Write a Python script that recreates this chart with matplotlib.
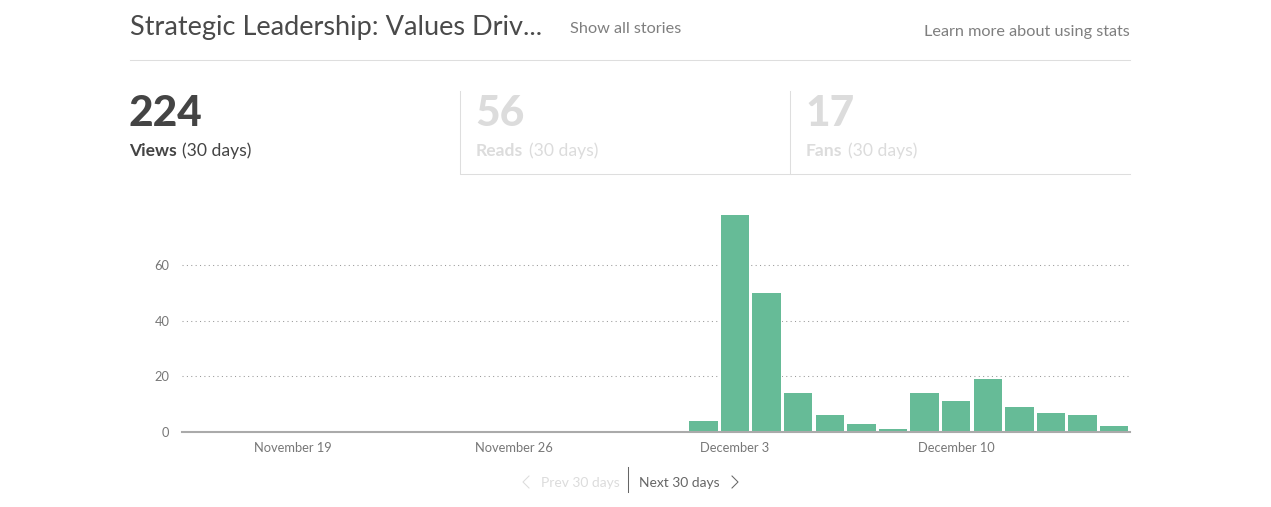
import matplotlib
matplotlib.use("Agg")
import matplotlib.pyplot as plt
import numpy as np

W, H = 1271, 507

views = [0, 0, 0, 0, 0, 0, 0, 0, 0, 0, 0, 0, 0, 0, 0, 0,
         4, 78, 50, 14, 6, 3, 1, 14, 11, 19, 9, 7, 6, 2]
tick_days = [3, 10, 17, 24]
tick_labels = ["November 19", "November 26", "December 3", "December 10"]
y_ticks = [0, 20, 40, 60]

plt.rcParams['font.family'] = ['Lato', 'DejaVu Sans']

fig = plt.figure(figsize=(W / 100, H / 100), dpi=100, facecolor='white')

# page furniture, in pixel coords
ui = fig.add_axes([0, 0, 1, 1])
ui.set_xlim(0, W)
ui.set_ylim(H, 0)
ui.axis('off')

dark = '#444444'
mid = '#7f7f7f'
faint = '#dcdcdc'
line = '#dedede'

ui.text(130, 28, "Strategic Leadership: Values Driv...", fontsize=19.5, color='#4a4a4a', va='center')
ui.text(570, 29, "Show all stories", fontsize=11.7, color=mid, va='center')
ui.text(1130, 32, "Learn more about using stats", fontsize=11.7, color=mid, va='center', ha='right')
ui.plot([130, 1129.5], [60, 60], color=line, lw=0.75)

ui.text(129, 114, "224", fontsize=30.5, fontweight='black', color=dark, va='center')
ui.text(129.5, 151, "Views", fontsize=12.6, fontweight='bold', color=dark, va='center')
ui.text(182.5, 151, "(30 days)", fontsize=12.6, color=dark, va='center')

ui.text(475, 114, "56", fontsize=30.5, fontweight='black', color=faint, va='center')
ui.text(476, 151, "Reads", fontsize=12.6, fontweight='bold', color=faint, va='center')
ui.text(529, 151, "(30 days)", fontsize=12.6, color=faint, va='center')

ui.text(805, 114, "17", fontsize=30.5, fontweight='black', color=faint, va='center')
ui.text(806, 151, "Fans", fontsize=12.6, fontweight='bold', color=faint, va='center')
ui.text(848, 151, "(30 days)", fontsize=12.6, color=faint, va='center')

ui.plot([460, 460, 1129.5], [91, 174, 174], color=line, lw=0.75)
ui.plot([790, 790], [91, 174], color=line, lw=0.75)

ui.text(541, 483, "Prev 30 days", fontsize=10, color=faint, va='center')
ui.text(639, 483, "Next 30 days", fontsize=10, color='#666666', va='center')
ui.plot([628, 628], [467, 492], color='#666666', lw=0.75)
ui.plot([529, 523, 529], [476, 482, 488], color=faint, lw=0.75)
ui.plot([732, 738, 732], [476, 482, 488], color='#666666', lw=0.75)

# the chart
ax = fig.add_axes([182 / W, (H - 432) / H, 948 / W, 217 / H])
ax.patch.set_alpha(0)
x = np.arange(len(views))
ax.bar(x, views, width=0.9, color='#66BB97', linewidth=0, zorder=3)
# white halo so the dotted lines stop just short of the bars
ax.bar(x, views, width=1.0, color='white', linewidth=0, zorder=2)
ax.set_xlim(-0.5, len(views) - 0.5)
ax.set_ylim(0, 78)
ax.set_yticks(y_ticks)
ax.set_xticks(tick_days)
ax.set_xticklabels(tick_labels)
ax.tick_params(length=0, labelsize=9.3, labelcolor='#777777')
ax.tick_params(axis='x', pad=7.5)
ax.tick_params(axis='y', pad=9)
ax.hlines(y_ticks[1:], -0.5, 29.45, linestyle=(0, (1, 3.2)), color='#999999', linewidth=0.75, zorder=1)
for s in ['top', 'right', 'left']:
    ax.spines[s].set_visible(False)
ax.spines['bottom'].set_color('#aaaaaa')
ax.spines['bottom'].set_linewidth(1.5)
ax.spines['bottom'].set_zorder(4)

fig.savefig("out.png", dpi=100)
